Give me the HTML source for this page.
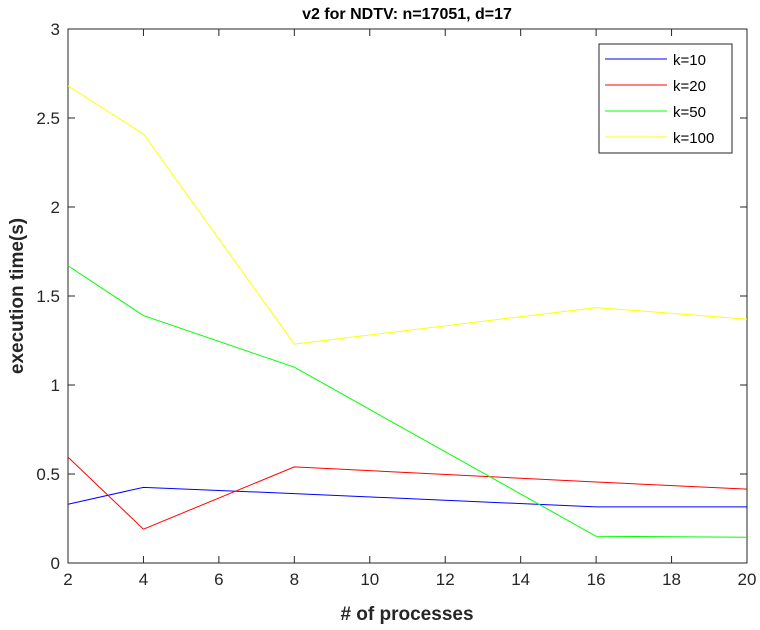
<!DOCTYPE html>
<html><head><meta charset="utf-8"><style>
body{margin:0;background:#fff}
svg{display:block;font-family:"Liberation Sans",Arial,sans-serif}
</style></head><body>
<svg id="chart" width="760" height="630" viewBox="0 0 760 630" xmlns="http://www.w3.org/2000/svg">
<rect width="760" height="630" fill="#fff"/>
<text x="407" y="19" text-anchor="middle" font-size="16" font-weight="bold" fill="#000">v2 for NDTV: n=17051, d=17</text>
<text x="407" y="620" text-anchor="middle" font-size="19" font-weight="bold" fill="#262626"># of processes</text>
<text transform="translate(23,296) rotate(-90)" text-anchor="middle" font-size="19" font-weight="bold" fill="#262626">execution time(s)</text>
<g id="axes"></g>
<g id="series"></g>
<g id="legend"></g>
</svg>
<script>
const xValues=[2,4,8,16,20];
const seriesNames=["k=10","k=20","k=50","k=100"];
const seriesColors=["#0000ff","#ff0000","#00ff00","#ffff00"];
const k10=[0.33,0.425,0.39,0.315,0.315];
const k20=[0.595,0.19,0.54,0.455,0.415];
const k50=[1.67,1.39,1.10,0.15,0.145];
const k100=[2.68,2.41,1.23,1.435,1.37];
const xTicks=[2,4,6,8,10,12,14,16,18,20];
const yTicks=[0,0.5,1,1.5,2,2.5,3];
const yTickLabels=["0","0.5","1","1.5","2","2.5","3"];
const NS="http://www.w3.org/2000/svg";
const L=68,R=747,T=29,B=563;
const xs=v=>L+(v-2)/(20-2)*(R-L);
const ys=v=>B-v/3*(B-T);
function mk(tag,attrs,parent){const e=document.createElementNS(NS,tag);for(const k in attrs)e.setAttribute(k,attrs[k]);parent.appendChild(e);return e;}
const ax=document.getElementById('axes');
const box=mk('rect',{x:L,y:T,width:R-L,height:B-T,fill:'none',stroke:'#262626','stroke-width':1},ax);


xTicks.forEach(t=>{
  const x=xs(t);
  mk('line',{x1:x,x2:x,y1:B,y2:B-7,stroke:'#262626'},ax);
  mk('line',{x1:x,x2:x,y1:T,y2:T+7,stroke:'#262626'},ax);
  const tx=mk('text',{x:x,y:B+22,'text-anchor':'middle','font-size':17,fill:'#262626'},ax);
  tx.textContent=t;
  
  
});
yTicks.forEach((t,i)=>{
  const y=ys(t);
  mk('line',{x1:L,x2:L+7,y1:y,y2:y,stroke:'#262626'},ax);
  mk('line',{x1:R,x2:R-7,y1:y,y2:y,stroke:'#262626'},ax);
  const tx=mk('text',{x:L-8,y:y+6,'text-anchor':'end','font-size':17,fill:'#262626'},ax);
  tx.textContent=yTickLabels[i];
  
  
});
const data=[k10,k20,k50,k100];
const sg=document.getElementById('series');
data.forEach((s,i)=>{
  const p=mk('polyline',{points:s.map((v,j)=>xs(xValues[j])+','+ys(v)).join(' '),fill:'none',stroke:seriesColors[i],'stroke-width':1},sg);
  
  
});
const lg=document.getElementById('legend');
mk('rect',{x:599,y:44,width:133,height:109,fill:'#fff',stroke:'#262626'},lg);
seriesNames.forEach((n,i)=>{
  const y=59+i*26;
  const ln=mk('line',{x1:605,x2:667,y1:y,y2:y,stroke:seriesColors[i]},lg);
  
  
  const tx=mk('text',{x:673,y:y+6,'font-size':15,fill:'#000'},lg);
  tx.textContent=n;
  
  
});
</script>
</body></html>
